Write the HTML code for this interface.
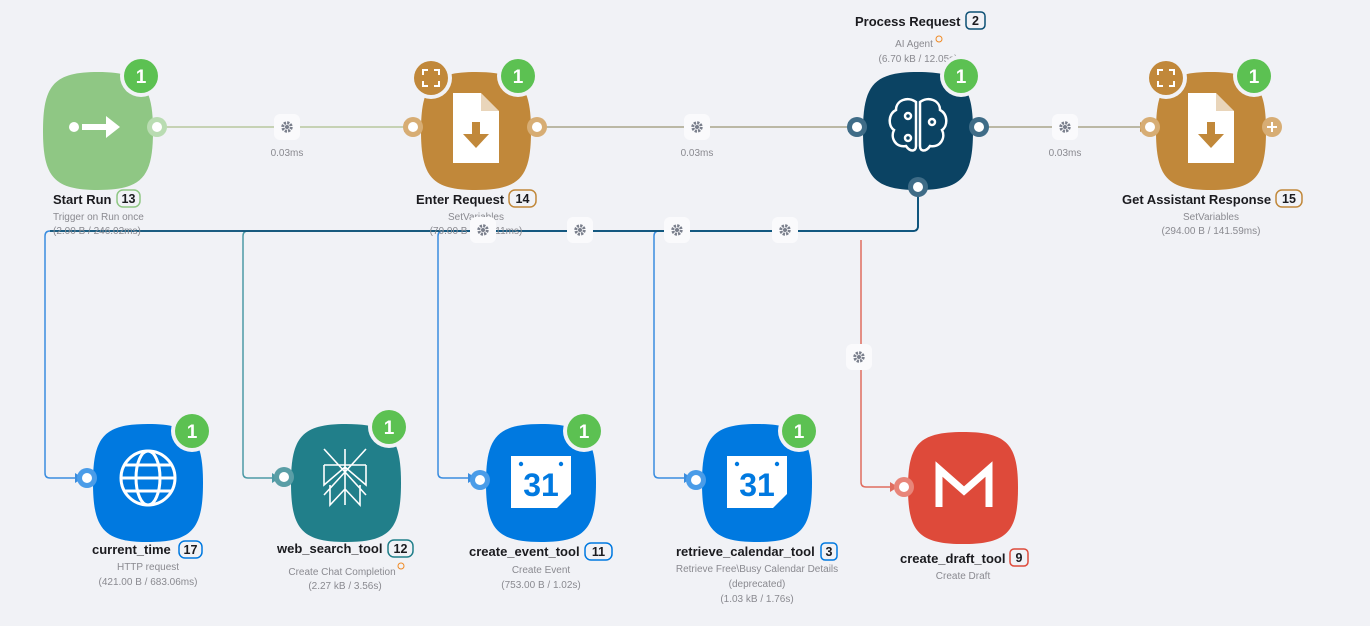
<!DOCTYPE html>
<html><head><meta charset="utf-8"><style>
html,body{margin:0;padding:0;background:#f1f2f6;}
svg{display:block;font-family:"Liberation Sans",sans-serif;}
.t{font-size:13px;font-weight:bold;fill:#1b1b1f;}
.s{font-size:10px;fill:#8a8a90;}
.b{font-size:12.5px;font-weight:bold;fill:#1b1b1f;}
.g{font-size:19px;font-weight:bold;fill:#fff;}
</style></head><body>
<svg width="1370" height="626" viewBox="0 0 1370 626">
<defs>
<path id="blob" d="M-55 0 C-55 -46 -44 -59 0 -59 C44 -59 55 -46 55 0 C55 46 44 59 0 59 C-44 59 -55 46 -55 0Z"/>
<g id="gear"><rect x="-13" y="-13" width="26" height="26" rx="6" fill="#fafafc"/><circle r="4.2" fill="none" stroke="#7a7f8c" stroke-width="3" stroke-dasharray="2.2 1.1"/><circle r="2" fill="#7a7f8c"/></g>
<g id="cal"><path d="M-30 -26 h60 v38 l-14 14 h-46 z" fill="#fff"/><circle cx="-20" cy="-18" r="2.2" fill="#0079e0"/><circle cx="20" cy="-18" r="2.2" fill="#0079e0"/><text x="0" y="14" text-anchor="middle" font-size="32" font-weight="bold" fill="#0079e0">31</text></g>
<g id="doc"><path d="M-23 -35 h28 l18 18 v52 h-46 z" fill="#fff"/><path d="M5 -35 v18 h18" fill="#c1883a" opacity="0.35"/><path d="M-4 -6 h8 v12 h9 l-13 14 l-13 -14 h9 z" fill="#c1883a"/></g>
<g id="exp"><path d="M-8 -3 v-5 h5 M3 -8 h5 v5 M8 3 v5 h-5 M-3 8 h-5 v-5" stroke="#fff" stroke-width="2" fill="none"/></g>
</defs>

<!-- top connectors -->
<line x1="160" y1="127" x2="405" y2="127" stroke="#b8c79e" stroke-width="1.5"/>
<path d="M404 122 l8 5 l-8 5z" fill="#c1883a"/>
<line x1="540" y1="127" x2="848" y2="127" stroke="#a9a48a" stroke-width="1.5"/>
<path d="M848 122 l8 5 l-8 5z" fill="#0b4f74"/>
<line x1="982" y1="127" x2="1142" y2="127" stroke="#a9a48a" stroke-width="1.5"/>
<path d="M1140 122 l8 5 l-8 5z" fill="#c1883a"/>
<use href="#gear" x="287" y="127"/><text x="287" y="156" class="s" text-anchor="middle">0.03ms</text>
<use href="#gear" x="697" y="127"/><text x="697" y="156" class="s" text-anchor="middle">0.03ms</text>
<use href="#gear" x="1065" y="127"/><text x="1065" y="156" class="s" text-anchor="middle">0.03ms</text>

<!-- lower connectors -->
<path d="M918 190 V226 q0 5 -5 5 H50 q-5 0 -5 5 V473 q0 5 5 5 H75" fill="none" stroke="#3a8ddf" stroke-width="1.5"/>
<path d="M918 190 V226 q0 5 -5 5 H248 q-5 0 -5 5 V473 q0 5 5 5 H272" fill="none" stroke="#4d9aa6" stroke-width="1.5"/>
<path d="M918 190 V226 q0 5 -5 5 H443 q-5 0 -5 5 V473 q0 5 5 5 H468" fill="none" stroke="#3a8ddf" stroke-width="1.5"/>
<path d="M918 190 V226 q0 5 -5 5 H659 q-5 0 -5 5 V473 q0 5 5 5 H684" fill="none" stroke="#3a8ddf" stroke-width="1.5"/>
<path d="M861 240 V482 q0 5 5 5 H890" fill="none" stroke="#e06d5f" stroke-width="1.5"/>
<path d="M918 190 V226 q0 5 -5 5 H50" fill="none" stroke="#0b4f74" stroke-width="1.8"/>
<path d="M75 473 l8 5 l-8 5z" fill="#3a8ddf"/><path d="M272 473 l8 5 l-8 5z" fill="#4d9aa6"/>
<path d="M468 473 l8 5 l-8 5z" fill="#3a8ddf"/><path d="M684 473 l8 5 l-8 5z" fill="#3a8ddf"/>
<path d="M890 482 l8 5 l-8 5z" fill="#e06d5f"/>

<!-- Start Run -->
<use href="#blob" x="98" y="131" fill="#8fc784"/>
<circle cx="157" cy="127" r="10" fill="#b9dcb2"/><circle cx="157" cy="127" r="5" fill="#fff"/>
<circle cx="74" cy="127" r="5" fill="#fff"/><path d="M82 124 h24 v-8 l14 11 l-14 11 v-8 h-24z" fill="#fff"/>
<circle cx="141" cy="76" r="21" fill="#f1f2f6"/><circle cx="141" cy="76" r="17" fill="#5cc152"/><text x="141" y="83" class="g" text-anchor="middle">1</text>
<text x="53" y="204" class="t">Start Run</text><rect x="117" y="190" width="23" height="17" rx="6" fill="none" stroke="#8fc784" stroke-width="1.5"/><text x="128.5" y="203" class="b" text-anchor="middle">13</text>
<text x="53" y="220" class="s">Trigger on Run once</text><text x="53" y="234" class="s">(2.00 B / 246.02ms)</text>

<!-- Enter Request -->
<use href="#blob" x="476" y="131" fill="#c1883a"/>
<circle cx="413" cy="127" r="10" fill="#d7ad74"/><circle cx="413" cy="127" r="5" fill="#fff"/>
<circle cx="537" cy="127" r="10" fill="#d7ad74"/><circle cx="537" cy="127" r="5" fill="#fff"/>
<use href="#doc" x="476" y="128"/>
<circle cx="431" cy="78" r="21" fill="#f1f2f6"/><circle cx="431" cy="78" r="17" fill="#c1883a"/><use href="#exp" x="431" y="78"/>
<circle cx="518" cy="76" r="21" fill="#f1f2f6"/><circle cx="518" cy="76" r="17" fill="#5cc152"/><text x="518" y="83" class="g" text-anchor="middle">1</text>
<text x="416" y="204" class="t">Enter Request</text><rect x="509" y="190" width="27" height="17" rx="6" fill="none" stroke="#c1883a" stroke-width="1.5"/><text x="522.5" y="203" class="b" text-anchor="middle">14</text>
<text x="476" y="220" class="s" text-anchor="middle">SetVariables</text><text x="476" y="234" class="s" text-anchor="middle">(79.00 B / 140.11ms)</text>

<!-- Process Request -->
<text x="855" y="26" class="t">Process Request</text><rect x="966" y="12" width="19" height="17" rx="4" fill="none" stroke="#0b4f74" stroke-width="1.5"/><text x="975.5" y="25" class="b" text-anchor="middle">2</text>
<text x="914" y="47" class="s" text-anchor="middle">AI Agent</text><circle cx="939" cy="39" r="3" fill="none" stroke="#f08a24" stroke-width="1"/>
<text x="918" y="62" class="s" text-anchor="middle">(6.70 kB / 12.05s)</text>
<use href="#blob" x="918" y="131" fill="#0b4363"/>
<circle cx="857" cy="127" r="10" fill="#3f6c87"/><circle cx="857" cy="127" r="5" fill="#fff"/>
<circle cx="979" cy="127" r="10" fill="#3f6c87"/><circle cx="979" cy="127" r="5" fill="#fff"/>
<circle cx="918" cy="187" r="10" fill="#3f6c87"/><circle cx="918" cy="187" r="5" fill="#fff"/>
<g fill="none" stroke="#fff" stroke-width="2.5"><path d="M916 102 c-8 -6 -20 -2 -20 8 c-8 4 -8 16 -2 20 c-4 8 2 18 12 16 c4 6 10 6 10 0z"/><path d="M920 102 c8 -6 20 -2 20 8 c8 4 8 16 2 20 c4 8 -2 18 -12 16 c-4 6 -10 6 -10 0z"/><circle cx="908" cy="116" r="3"/><circle cx="932" cy="122" r="3"/><circle cx="908" cy="138" r="3"/></g>
<circle cx="961" cy="76" r="21" fill="#f1f2f6"/><circle cx="961" cy="76" r="17" fill="#5cc152"/><text x="961" y="83" class="g" text-anchor="middle">1</text>

<!-- Get Assistant Response -->
<use href="#blob" x="1211" y="131" fill="#c1883a"/>
<circle cx="1150" cy="127" r="10" fill="#d7ad74"/><circle cx="1150" cy="127" r="5" fill="#fff"/>
<circle cx="1272" cy="127" r="10" fill="#d7ad74"/><path d="M1267 127 h10 M1272 122 v10" stroke="#fff" stroke-width="2"/>
<use href="#doc" x="1211" y="128"/>
<circle cx="1166" cy="78" r="21" fill="#f1f2f6"/><circle cx="1166" cy="78" r="17" fill="#c1883a"/><use href="#exp" x="1166" y="78"/>
<circle cx="1254" cy="76" r="21" fill="#f1f2f6"/><circle cx="1254" cy="76" r="17" fill="#5cc152"/><text x="1254" y="83" class="g" text-anchor="middle">1</text>
<text x="1122" y="204" class="t">Get Assistant Response</text><rect x="1276" y="190" width="26" height="17" rx="6" fill="none" stroke="#c1883a" stroke-width="1.5"/><text x="1289" y="203" class="b" text-anchor="middle">15</text>
<text x="1211" y="220" class="s" text-anchor="middle">SetVariables</text><text x="1211" y="234" class="s" text-anchor="middle">(294.00 B / 141.59ms)</text>

<use href="#gear" x="483" y="230"/><use href="#gear" x="580" y="230"/><use href="#gear" x="677" y="230"/><use href="#gear" x="785" y="230"/><use href="#gear" x="859" y="357"/>

<!-- current_time -->
<use href="#blob" x="148" y="483" fill="#0079e0"/>
<circle cx="87" cy="478" r="10" fill="#4a9ce8"/><circle cx="87" cy="478" r="5" fill="#fff"/>
<g fill="none" stroke="#fff" stroke-width="3"><circle cx="148" cy="478" r="27"/><ellipse cx="148" cy="478" rx="12" ry="27"/><line x1="121" y1="478" x2="175" y2="478"/><path d="M125 465 h46 M125 491 h46"/></g>
<circle cx="192" cy="431" r="21" fill="#f1f2f6"/><circle cx="192" cy="431" r="17" fill="#5cc152"/><text x="192" y="438" class="g" text-anchor="middle">1</text>
<text x="92" y="554" class="t">current_time</text><rect x="179" y="541" width="23" height="17" rx="6" fill="none" stroke="#0079e0" stroke-width="1.5"/><text x="190.5" y="554" class="b" text-anchor="middle">17</text>
<text x="148" y="570" class="s" text-anchor="middle">HTTP request</text><text x="148" y="585" class="s" text-anchor="middle">(421.00 B / 683.06ms)</text>

<!-- web_search_tool -->
<use href="#blob" x="346" y="483" fill="#217f8a"/>
<circle cx="284" cy="477" r="10" fill="#5a9ea6"/><circle cx="284" cy="477" r="5" fill="#fff"/>
<g fill="none" stroke="#fff" stroke-width="1.6"><path d="M324 449 l42 46 M366 449 l-42 46 M345 449 v56 M324 465 h42 M324 465 v20 l21 -18 l21 18 v-20 M330 485 v20 l15 -16 l15 16 v-20"/></g>
<circle cx="389" cy="427" r="21" fill="#f1f2f6"/><circle cx="389" cy="427" r="17" fill="#5cc152"/><text x="389" y="434" class="g" text-anchor="middle">1</text>
<text x="277" y="553" class="t">web_search_tool</text><rect x="388" y="540" width="25" height="17" rx="6" fill="none" stroke="#217f8a" stroke-width="1.5"/><text x="400.5" y="553" class="b" text-anchor="middle">12</text>
<text x="342" y="575" class="s" text-anchor="middle">Create Chat Completion</text><circle cx="401" cy="566" r="3" fill="none" stroke="#f08a24" stroke-width="1"/><text x="345" y="589" class="s" text-anchor="middle">(2.27 kB / 3.56s)</text>

<!-- create_event_tool -->
<use href="#blob" x="541" y="483" fill="#0079e0"/>
<circle cx="480" cy="480" r="10" fill="#4a9ce8"/><circle cx="480" cy="480" r="5" fill="#fff"/>
<use href="#cal" x="541" y="482"/>
<circle cx="584" cy="431" r="21" fill="#f1f2f6"/><circle cx="584" cy="431" r="17" fill="#5cc152"/><text x="584" y="438" class="g" text-anchor="middle">1</text>
<text x="469" y="556" class="t">create_event_tool</text><rect x="585" y="543" width="27" height="17" rx="6" fill="none" stroke="#0079e0" stroke-width="1.5"/><text x="598.5" y="556" class="b" text-anchor="middle">11</text>
<text x="541" y="573" class="s" text-anchor="middle">Create Event</text><text x="541" y="588" class="s" text-anchor="middle">(753.00 B / 1.02s)</text>

<!-- retrieve_calendar_tool -->
<use href="#blob" x="757" y="483" fill="#0079e0"/>
<circle cx="696" cy="480" r="10" fill="#4a9ce8"/><circle cx="696" cy="480" r="5" fill="#fff"/>
<use href="#cal" x="757" y="482"/>
<circle cx="799" cy="431" r="21" fill="#f1f2f6"/><circle cx="799" cy="431" r="17" fill="#5cc152"/><text x="799" y="438" class="g" text-anchor="middle">1</text>
<text x="676" y="556" class="t">retrieve_calendar_tool</text><rect x="821" y="543" width="16" height="17" rx="4" fill="none" stroke="#0079e0" stroke-width="1.5"/><text x="829" y="556" class="b" text-anchor="middle">3</text>
<text x="757" y="572" class="s" text-anchor="middle">Retrieve Free\Busy Calendar Details</text><text x="757" y="587" class="s" text-anchor="middle">(deprecated)</text><text x="757" y="602" class="s" text-anchor="middle">(1.03 kB / 1.76s)</text>

<!-- create_draft_tool -->
<use href="#blob" x="963" y="488" fill="#de4a3a" transform="translate(963 488) scale(1 0.95) translate(-963 -488)"/>
<circle cx="904" cy="487" r="10" fill="#e88579"/><circle cx="904" cy="487" r="5" fill="#fff"/>
<path d="M939 507 v-38 l25 22 l25 -22 v38" fill="none" stroke="#fff" stroke-width="7" stroke-linejoin="miter"/>
<text x="900" y="563" class="t">create_draft_tool</text><rect x="1010" y="549" width="18" height="17" rx="4" fill="none" stroke="#de4a3a" stroke-width="1.5"/><text x="1019" y="562" class="b" text-anchor="middle">9</text>
<text x="963" y="579" class="s" text-anchor="middle">Create Draft</text>
</svg>
</body></html>
